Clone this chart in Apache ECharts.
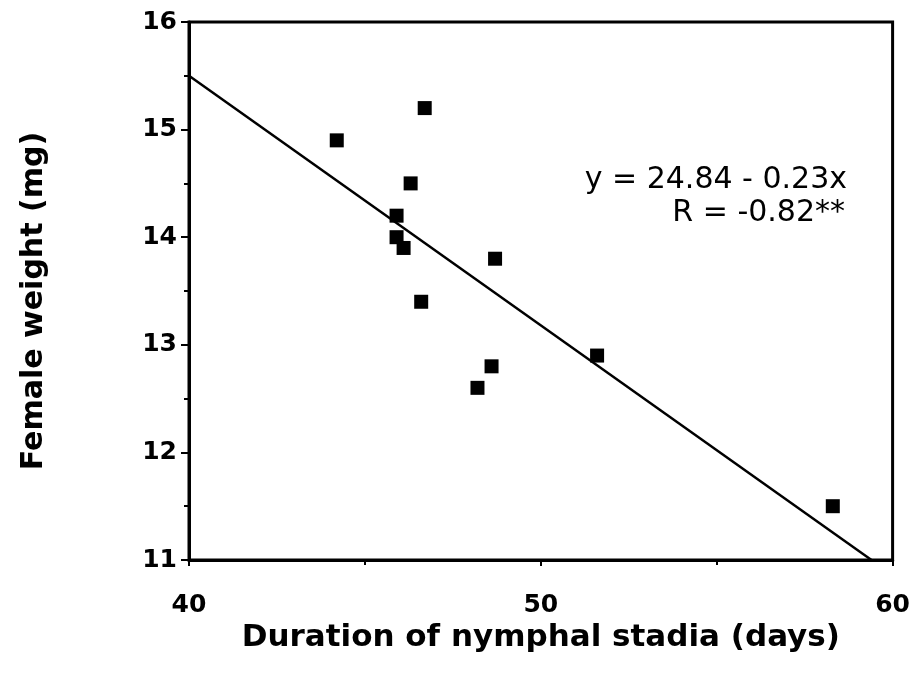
<!DOCTYPE html>
<html><head><meta charset="utf-8">
<script src="https://cdn.jsdelivr.net/npm/echarts@6/dist/echarts.min.js"></script>
<style>html,body{margin:0;padding:0;background:#fff}#c{width:913px;height:676px}</style>
</head><body><div id="c"></div>
<script>
const durationDays = [46.7, 44.2, 46.3, 45.9, 45.9, 46.1, 48.7, 46.6, 48.6, 48.2, 51.6, 58.3];
const femaleWeight = [15.2, 14.9, 14.5, 14.2, 14.0, 13.9, 13.8, 13.4, 12.8, 12.6, 12.9, 11.5];
const fitLineX = [40, 59.4];
const fitLineY = [15.5, 11.0];
const xTicks = [40, 50, 60];
const yTicks = [11, 12, 13, 14, 15, 16];
const equationText = ['y = 24.84 - 0.23x', 'R = -0.82**'];

const chart = echarts.init(document.getElementById('c'));
const boldFont = 'DejaVu Sans';
chart.setOption({
  animation: false,
  backgroundColor: '#fff',
  grid: { left: 189, top: 22, right: 20, bottom: 116, show: true, borderColor: '#000', borderWidth: 3 },
  xAxis: {
    type: 'value', min: xTicks[0], max: xTicks[xTicks.length - 1], interval: 10,
    name: 'Duration of nymphal stadia (days)', nameLocation: 'middle', nameGap: 54,
    nameTextStyle: { fontFamily: boldFont, fontWeight: 'bold', fontSize: 31, color: '#000' },
    axisLine: { lineStyle: { color: '#000', width: 3 } },
    axisTick: { show: true, length: 6, lineStyle: { color: '#000', width: 2 } },
    minorTick: { show: true, splitNumber: 2, length: 5, lineStyle: { color: '#000', width: 2 } },
    splitLine: { show: false },
    axisLabel: { fontFamily: boldFont, fontWeight: 'bold', fontSize: 25, color: '#000', margin: 33 }
  },
  yAxis: {
    type: 'value', min: yTicks[0], max: yTicks[yTicks.length - 1], interval: 1,
    name: 'Female weight (mg)', nameLocation: 'middle', nameGap: 140, nameRotate: 90,
    nameTextStyle: { fontFamily: boldFont, fontWeight: 'bold', fontSize: 30, color: '#000', padding: [0, 20, 0, 0] },
    axisLine: { show: true, lineStyle: { color: '#000', width: 3 } },
    axisTick: { show: true, length: 8, lineStyle: { color: '#000', width: 2 } },
    minorTick: { show: true, splitNumber: 2, length: 5, lineStyle: { color: '#000', width: 2 } },
    splitLine: { show: false },
    axisLabel: { fontFamily: boldFont, fontWeight: 'bold', fontSize: 25, color: '#000', margin: 12 }
  },
  series: [
    {
      type: 'scatter', symbol: 'rect', symbolSize: 14,
      itemStyle: { color: '#000', opacity: 1 },
      data: durationDays.map((d, i) => [d, femaleWeight[i]])
    },
    {
      type: 'line', symbol: 'none',
      lineStyle: { color: '#000', width: 2.5 },
      data: fitLineX.map((d, i) => [d, fitLineY[i]])
    }
  ],
  graphic: [
    { type: 'text', right: 66, top: 165, style: { text: equationText[0], fontFamily: 'DejaVu Sans', fontSize: 30, fill: '#000' } },
    { type: 'text', right: 68, top: 198, style: { text: equationText[1], fontFamily: 'DejaVu Sans', fontSize: 30, fill: '#000' } }
  ]
});
</script></body></html>
